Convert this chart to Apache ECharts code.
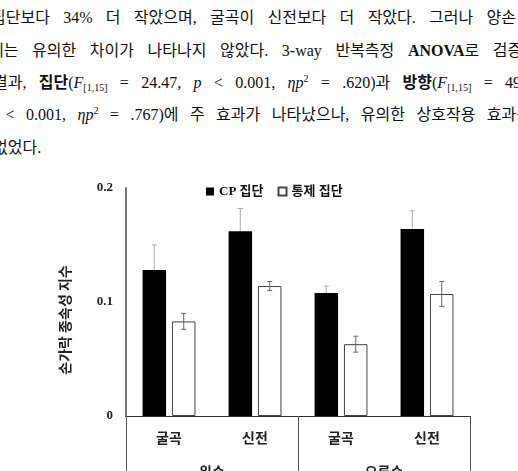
<!DOCTYPE html>
<html>
<head>
<meta charset="utf-8">
<script src="https://cdn.jsdelivr.net/npm/echarts@6/dist/echarts.min.js"></script>
<style>
html, body { margin: 0; padding: 0; background: #fff; overflow: hidden; }
#wrap { position: relative; width: 518px; height: 471px; overflow: hidden; }
#chart { position: absolute; left: 0; top: 0; width: 518px; height: 471px; }
.line {
  position: absolute; height: 22px; line-height: 22px;
  font-family: "Liberation Serif", "Noto Sans CJK KR", serif;
  font-size: 16px; color: #111;
  text-align: justify; text-align-last: justify;
}
.line b { font-weight: bold; }
.line i { font-style: italic; }
.line sub { font-size: 10px; line-height: 0; vertical-align: -3px; }
.line sup { font-size: 10px; line-height: 0; vertical-align: 6px; }
</style>
</head>
<body>
<div id="wrap">
  <div class="line" style="top:7px;left:-9px;width:525px;">집단보다 34% 더 작았으며, 굴곡이 신전보다 더 작았다. 그러나 양손</div>
  <div class="line" style="top:40px;left:-11px;width:548px;">에는 유의한 차이가 나타나지 않았다. 3-way 반복측정 <b>ANOVA</b>로 검증한</div>
  <div class="line" style="top:72px;left:-7px;width:532px;">결과, <b>집단</b>(<i>F</i><sub>[1,15]</sub> = 24.47, <i>p</i> &lt; 0.001, <i>ηp</i><sup>2</sup> = .620)과 <b>방향</b>(<i>F</i><sub>[1,15]</sub> = 49.</div>
  <div class="line" style="top:104px;left:-14px;width:545px;"><i>p</i> &lt; 0.001, <i>ηp</i><sup>2</sup> = .767)에 주 효과가 나타났으나, 유의한 상호작용 효과는</div>
  <div class="line" style="top:137px;left:-7px;width:200px;text-align:left;text-align-last:left;">없었다.</div>
  <div id="chart"></div>
</div>
<script>
var categories = ['굴곡', '신전', '굴곡', '신전'];
var hands = ['왼손', '오른손'];
var yTickLabels = ['0', '0.1', '0.2'];
var seriesNames = ['CP 집단', '통제 집단'];
var cpMean = [0.128, 0.162, 0.108, 0.164];
var cpErr = [0.022, 0.020, 0.006, 0.016];
var ctrlMean = [0.083, 0.114, 0.063, 0.107];
var ctrlErr = [0.007, 0.004, 0.007, 0.011];

var barWidth = 23.5;
var barGapPx = 6;
var off = (barWidth + barGapPx) / 2;

function errRender(offset, color) {
  return function (params, api) {
    var i = api.value(0), m = api.value(1), e = api.value(2);
    var hi = api.coord([i, m + e]);
    var lo = api.coord([i, m - e]);
    var x = hi[0] + offset, cap = 2.5;
    var st = { stroke: color, lineWidth: 1 };
    return {
      type: 'group',
      children: [
        { type: 'line', shape: { x1: x, y1: hi[1], x2: x, y2: lo[1] }, style: st },
        { type: 'line', shape: { x1: x - cap, y1: hi[1], x2: x + cap, y2: hi[1] }, style: st },
        { type: 'line', shape: { x1: x - cap, y1: lo[1], x2: x + cap, y2: lo[1] }, style: st }
      ]
    };
  };
}

var chart = echarts.init(document.getElementById('chart'), null, { renderer: 'canvas' });
var labelFont = '"Noto Sans CJK KR", sans-serif';
var numFont = '"Liberation Serif", "Noto Sans CJK KR", serif';

var option = {
  animation: false,
  backgroundColor: 'transparent',
  grid: { left: 126, right: 48, top: 188, bottom: 55, containLabel: false, outerBoundsMode: 'none' },
  legend: {
    data: seriesNames,
    left: 201,
    top: 180,
    icon: 'rect',
    itemWidth: 8,
    itemHeight: 8,
    itemGap: 14,
    textStyle: { fontFamily: numFont, fontWeight: 'bold', fontSize: 13, color: '#111' }
  },
  xAxis: [
    {
      type: 'category',
      data: categories,
      position: 'bottom',
      axisLine: { show: true, lineStyle: { color: '#333', width: 1 } },
      axisTick: { show: false },
      axisLabel: { margin: 15, fontFamily: labelFont, fontWeight: 'bold', fontSize: 14, color: '#222' }
    },
    {
      type: 'category',
      data: hands,
      position: 'bottom',
      axisLine: { show: false },
      axisTick: { show: true, length: 60, interval: 0, lineStyle: { color: '#555', width: 1 } },
      axisLabel: { margin: 49, fontFamily: labelFont, fontWeight: 'bold', fontSize: 14, color: '#222' }
    }
  ],
  yAxis: {
    type: 'value',
    min: 0,
    max: 0.2,
    interval: 0.1,
    axisLine: { show: true, lineStyle: { color: '#777', width: 2 } },
    axisTick: { show: false },
    splitLine: { show: false },
    axisLabel: {
      margin: 13,
      fontFamily: numFont,
      fontWeight: 'bold',
      fontSize: 13,
      color: '#222',
      formatter: function (v, i) { return yTickLabels[i]; }
    }
  },
  graphic: [
    {
      type: 'text',
      x: 65,
      y: 320,
      rotation: Math.PI / 2,
      style: {
        text: '손가락 종속성 지수',
        font: 'bold 14px "Noto Sans CJK KR"',
        fill: '#222',
        align: 'center',
        verticalAlign: 'middle'
      }
    }
  ],
  series: [
    {
      name: seriesNames[0],
      type: 'bar',
      data: cpMean,
      barWidth: barWidth,
      barGap: '25%',
      z: 2,
      itemStyle: { color: '#000' }
    },
    {
      name: seriesNames[1],
      type: 'bar',
      data: ctrlMean,
      barWidth: barWidth,
      barGap: '25%',
      z: 2,
      itemStyle: { color: '#fff', borderColor: '#444', borderWidth: 1 }
    },
    {
      type: 'custom',
      z: 1,
      renderItem: errRender(-off, '#aaa'),
      encode: { x: 0, y: 1 },
      data: cpMean.map(function (m, i) { return [i, m, cpErr[i]]; })
    },
    {
      type: 'custom',
      z: 3,
      renderItem: errRender(off, '#666'),
      encode: { x: 0, y: 1 },
      data: ctrlMean.map(function (m, i) { return [i, m, ctrlErr[i]]; })
    }
  ]
};
chart.setOption(option);
</script>
</body>
</html>
